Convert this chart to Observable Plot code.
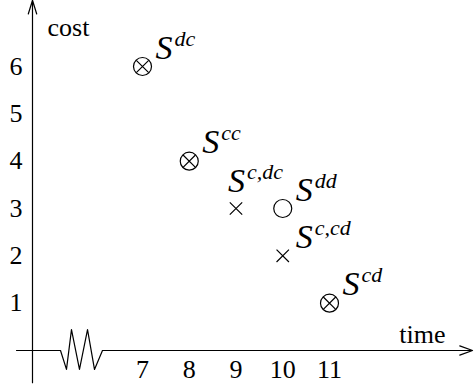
<!DOCTYPE html>
<html><head><meta charset="utf-8">
<script src="https://cdn.jsdelivr.net/npm/d3@7"></script>
<script src="https://cdn.jsdelivr.net/npm/@observablehq/plot@0.6"></script>
</head><body style="margin:0;background:#fff"><div id="chart"></div>
<script>
// tick labels
const xTicks = [7, 8, 9, 10, 11];
const yTicks = [1, 2, 3, 4, 5, 6];
// series
const names   = ["dc", "cc", "c,dc", "dd", "c,cd", "cd"];
const times   = [7, 8, 9, 10, 10, 11];
const costs   = [6, 4, 3, 3, 2, 1];
const markers = ["otimes", "otimes", "times", "circle", "times", "otimes"];
const labelSide = ["right", "right", "above", "right", "right", "right"];
// axis decorations (data units)
const yAxisAt = 4.647;
const xAxisFrom = 4.305, xAxisTo = 14.06;
const yAxisFrom = -0.68, yAxisTo = 7.4;
const breakX = [4.305, 5.246, 5.374, 5.481, 5.652, 5.824, 5.973, 6.144];
const breakY = [0, 0, -0.40, 0.44, -0.40, 0.44, -0.40, 0];

const pts = names.map((n, i) => ({name: n, time: times[i], cost: costs[i], marker: markers[i], side: labelSide[i]}));
const brk = breakX.map((x, i) => ({x, y: breakY[i]}));

const FONT = "Liberation Serif";
const sw = 1.2;

const chart = Plot.plot({
  width: 475, height: 391,
  margin: 0,
  x: {domain: [7, 11], range: [142, 329], axis: null},
  y: {domain: [0, 6], range: [350, 66], axis: null},
  marks: [
    // vertical axis
    Plot.arrow([0], {x1: yAxisAt, x2: yAxisAt, y1: yAxisFrom, y2: yAxisTo, stroke: "black", strokeWidth: sw, headLength: 18, headAngle: 34}),
    // horizontal axis with break
    Plot.line(brk, {x: "x", y: "y", stroke: "black", strokeWidth: sw, curve: "linear"}),
    Plot.arrow([0], {x1: breakX[breakX.length - 1], x2: xAxisTo, y1: 0, y2: 0, stroke: "black", strokeWidth: sw, headLength: 17, headAngle: 40}),
    // tick labels
    Plot.text(xTicks, {x: d => d, y: 0, dy: 27, lineAnchor: "bottom", text: d => String(d), fontSize: 26, fontFamily: FONT, fill: "black"}),
    Plot.text(yTicks, {x: yAxisAt, y: d => d, dx: -10, textAnchor: "end", lineAnchor: "middle", text: d => String(d), fontSize: 26, fontFamily: FONT, fill: "black"}),
    // axis titles
    Plot.text(["cost"], {x: yAxisAt, y: yAxisTo, dx: 15, dy: 36, textAnchor: "start", lineAnchor: "bottom", text: d => d, fontSize: 26, fontFamily: FONT, fill: "black"}),
    Plot.text(["time"], {x: xAxisTo, y: 0, dx: -27, dy: -8, textAnchor: "end", lineAnchor: "bottom", text: d => d, fontSize: 26, fontFamily: FONT, fill: "black"}),
    // markers
    Plot.dot(pts.filter(d => d.marker === "otimes" || d.marker === "circle"), {x: "time", y: "cost", r: 9, symbol: "circle", fill: "none", stroke: "black", strokeWidth: sw}),
    Plot.dot(pts.filter(d => d.marker === "otimes" || d.marker === "times"), {x: "time", y: "cost", r: 5.7, symbol: "times", fill: "none", stroke: "black", strokeWidth: sw}),
    // labels to the right
    Plot.text(pts.filter(d => d.side === "right"), {x: "time", y: "cost", text: () => "S", dx: 13, dy: -8, textAnchor: "start", lineAnchor: "bottom", fontSize: 34, fontStyle: "italic", fontFamily: FONT, fill: "black"}),
    Plot.text(pts.filter(d => d.side === "right"), {x: "time", y: "cost", text: "name", dx: 32, dy: -21, textAnchor: "start", lineAnchor: "bottom", fontSize: 22, fontStyle: "italic", fontFamily: FONT, fill: "black"}),
    // labels above
    Plot.text(pts.filter(d => d.side === "above"), {x: "time", y: "cost", text: () => "S", dx: -8, dy: -17, textAnchor: "start", lineAnchor: "bottom", fontSize: 34, fontStyle: "italic", fontFamily: FONT, fill: "black"}),
    Plot.text(pts.filter(d => d.side === "above"), {x: "time", y: "cost", text: "name", dx: 11, dy: -30, textAnchor: "start", lineAnchor: "bottom", fontSize: 22, fontStyle: "italic", fontFamily: FONT, fill: "black"})
  ]
});
chart.setAttribute("font-family", "Liberation Serif");
d3.select(chart).selectAll("g").filter(function() { return this.hasAttribute("font-family"); }).attr("font-family", "Liberation Serif");
d3.select(chart).selectAll("text").attr("font-family", "Liberation Serif").style("font-family", "'Liberation Serif', serif");
document.getElementById("chart").appendChild(chart);
</script>
</body></html>
